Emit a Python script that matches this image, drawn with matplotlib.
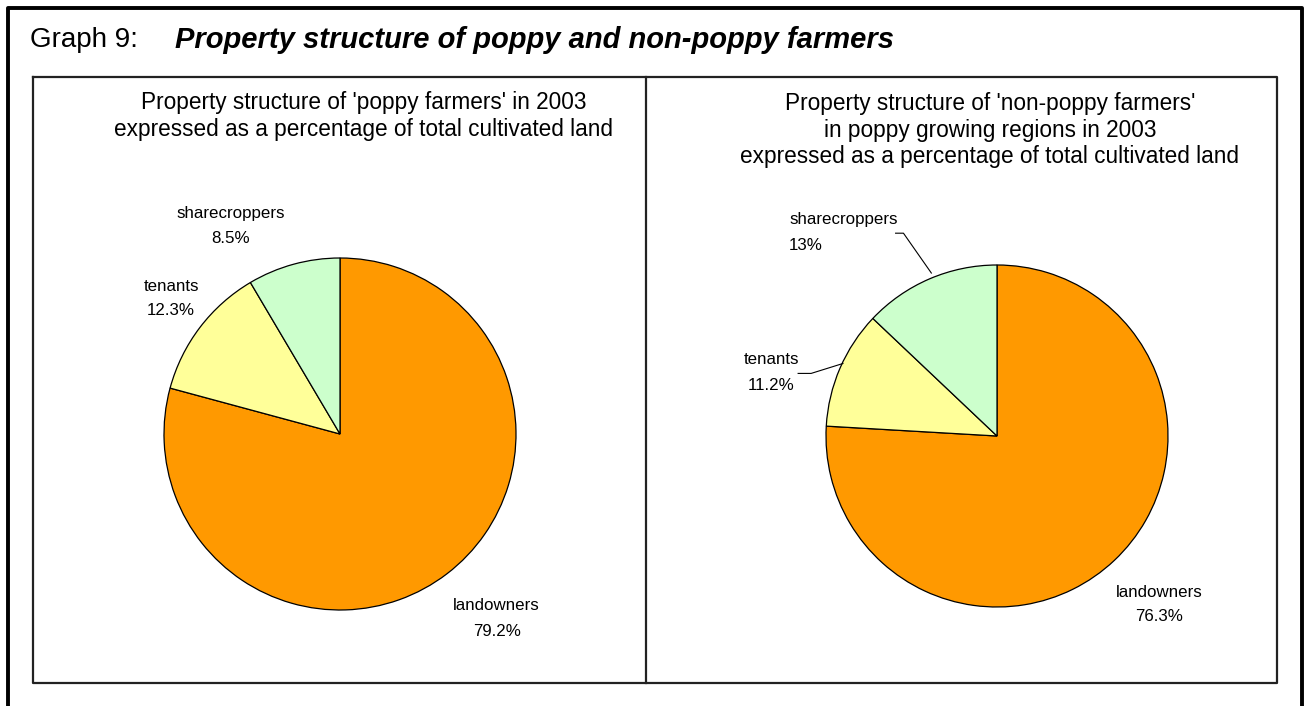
import matplotlib
matplotlib.use("Agg")
import matplotlib.pyplot as plt
from matplotlib.lines import Line2D

plt.rcParams['font.family'] = ['Liberation Sans', 'DejaVu Sans']

# data
categories = ["landowners", "tenants", "sharecroppers"]
poppy_shares = [79.2, 12.3, 8.5]
non_poppy_shares = [76.3, 11.2, 13.0]
poppy_labels = ["79.2%", "12.3%", "8.5%"]
non_poppy_labels = ["76.3%", "11.2%", "13%"]
colors = ["#FF9900", "#FFFF99", "#CCFFCC"]

W, H = 1306, 706
fig = plt.figure(figsize=(W / 100, H / 100), dpi=100)

def fx(px):
    return px / W

def fy(py):
    return 1 - py / H

# outer frame (open at bottom)
fig.add_artist(Line2D([fx(8), fx(8), fx(1302), fx(1302)],
                      [fy(706), fy(8), fy(8), fy(706)], color="black", lw=2.8))
# inner box + divider
fig.add_artist(Line2D([fx(33), fx(1277), fx(1277), fx(33), fx(33)],
                      [fy(77), fy(77), fy(683), fy(683), fy(77)], color="#222222", lw=1.6))
fig.add_artist(Line2D([fx(646), fx(646)], [fy(77), fy(683)], color="#222222", lw=1.6))

# header
fig.text(fx(30), fy(40), "Graph 9:", fontsize=20, va="center", ha="left")
fig.text(fx(175), fy(40), "Property structure of poppy and non-poppy farmers",
         fontsize=21, fontweight="bold", fontstyle="italic", va="center", ha="left")

# panel titles
fig.text(fx(364), fy(116), "Property structure of 'poppy farmers' in 2003\nexpressed as a percentage of total cultivated land",
         fontsize=16.3, ha="center", va="center", linespacing=1.2)
fig.text(fx(990), fy(130), "Property structure of 'non-poppy farmers'\nin poppy growing regions in 2003\nexpressed as a percentage of total cultivated land",
         fontsize=16.3, ha="center", va="center", linespacing=1.2)

label_font = dict(fontsize=12.2)

def pie_axes(cx, cy, r):
    ax = fig.add_axes([fx(cx - r), fy(cy + r), 2 * r / W, 2 * r / H])
    ax.set_xlim(-1, 1)
    ax.set_ylim(-1, 1)
    ax.set_aspect("equal")
    ax.axis("off")
    return ax

# left pie
ax1 = pie_axes(340, 434, 176)
ax1.pie(poppy_shares, colors=colors, startangle=90, counterclock=False, radius=1,
        wedgeprops=dict(edgecolor="black", linewidth=0.9))
ax1.set_xlim(-1, 1); ax1.set_ylim(-1, 1)
ax1.text(-0.62, 1.18, categories[2] + "\n" + poppy_labels[2], ha="center", va="center",
         linespacing=1.85, **label_font)
ax1.text(-0.96, 0.77, categories[1] + "\n" + poppy_labels[1], ha="center", va="center",
         linespacing=1.7, **label_font)
ax1.text(0.89, -1.05, categories[0] + "\n" + poppy_labels[0], ha="center", va="center",
         linespacing=1.9, **label_font)

# right pie
ax2 = pie_axes(997, 436, 171)
ax2.pie(non_poppy_shares, colors=colors, startangle=90, counterclock=False, radius=1,
        wedgeprops=dict(edgecolor="black", linewidth=0.9))
ax2.set_xlim(-1, 1); ax2.set_ylim(-1, 1)
ax2.text(-1.215, 1.19, categories[2] + "\n" + non_poppy_labels[2], ha="left", va="center",
         linespacing=1.85, **label_font)
ax2.text(-1.32, 0.37, categories[1] + "\n" + non_poppy_labels[1], ha="center", va="center",
         linespacing=1.9, **label_font)
ax2.text(0.948, -0.985, categories[0] + "\n" + non_poppy_labels[0], ha="center", va="center",
         linespacing=1.8, **label_font)
# leader lines
ax2.plot([-0.593, -0.547, -0.384], [1.186, 1.186, 0.953], color="black", lw=0.8, clip_on=False)
ax2.plot([-1.163, -1.087, -0.901], [0.366, 0.366, 0.424], color="black", lw=0.8, clip_on=False)

fig.savefig("out.png", dpi=100, facecolor="white")
